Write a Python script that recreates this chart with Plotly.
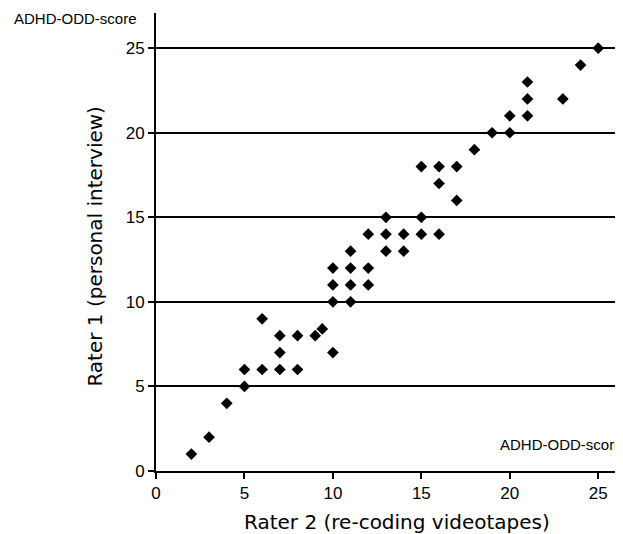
import plotly.graph_objects as go

# Rater 2 (re-coding videotapes) vs Rater 1 (personal interview)
rater2 = [2, 3, 4, 5, 5, 6, 6, 7, 7, 7, 8, 8, 9, 9.4, 10, 10, 10, 10,
          11, 11, 11, 11, 12, 12, 12, 13, 13, 13, 14, 14, 15, 15, 15,
          16, 16, 16, 17, 17, 18, 19, 20, 20, 21, 21, 21, 23, 24, 25]
rater1 = [1, 2, 4, 5, 6, 6, 9, 6, 7, 8, 6, 8, 8, 8.4, 7, 10, 11, 12,
          10, 11, 12, 13, 11, 12, 14, 13, 14, 15, 13, 14, 14, 15, 18,
          14, 17, 18, 16, 18, 19, 20, 20, 21, 21, 22, 23, 22, 24, 25]

tick_vals = [0, 5, 10, 15, 20, 25]
tick_text = ["0", "5", "10", "15", "20", "25"]

FONT = "Arial, Liberation Sans, sans-serif"
TITLE_FONT = "DejaVu Sans, Arial, sans-serif"

fig = go.Figure()
fig.add_trace(go.Scatter(
    x=rater2, y=rater1, mode="markers",
    marker=dict(symbol="diamond", size=9, color="black"),
    showlegend=False, hoverinfo="x+y",
))

fig.update_layout(
    width=623, height=534,
    margin=dict(l=148, r=8, t=5, b=71),
    paper_bgcolor="white", plot_bgcolor="white",
    font=dict(family=FONT, color="black"),
    xaxis=dict(
        range=[0, 26.4], tickvals=tick_vals, ticktext=tick_text,
        showgrid=False, zeroline=False,
        showline=True, linecolor="black", linewidth=2,
        ticks="outside", ticklen=6, tickwidth=2, tickcolor="black",
        tickfont=dict(size=17, family=FONT, color="black"),
    ),
    yaxis=dict(
        range=[0, 27.08], tickvals=tick_vals, ticktext=tick_text,
        showgrid=True, gridcolor="black", gridwidth=2,
        zeroline=False,
        showline=True, linecolor="black", linewidth=2,
        ticks="outside", ticklen=6, tickwidth=2, tickcolor="black",
        tickfont=dict(size=17, family=FONT, color="black"),
    ),
    annotations=[
        dict(text="Rater 2 (re-coding videotapes)", xref="paper", yref="paper",
             x=0.516, y=-0.112, showarrow=False, xanchor="center", yanchor="middle",
             font=dict(size=20, family=TITLE_FONT, color="black")),
        dict(text="Rater 1 (personal interview)", xref="paper", yref="paper",
             x=-0.1306, y=0.49, showarrow=False, xanchor="center", yanchor="middle",
             textangle=-90, font=dict(size=20, family=TITLE_FONT, color="black")),
        dict(text="ADHD-ODD-score", xref="paper", yref="paper",
             x=-0.309, y=0.989, showarrow=False, xanchor="left", yanchor="middle",
             font=dict(size=15, family=FONT, color="black")),
        dict(text="ADHD-ODD-score", xref="paper", yref="paper",
             x=0.732, y=0.058, showarrow=False, xanchor="left", yanchor="middle",
             font=dict(size=15, family=FONT, color="black")),
    ],
)

fig.write_html("out.html")
